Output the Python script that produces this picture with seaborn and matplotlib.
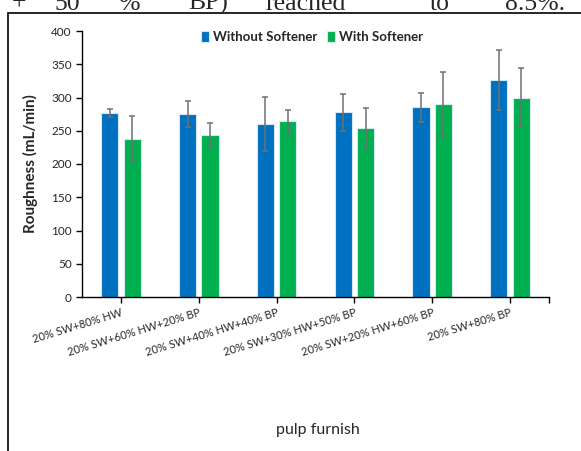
import matplotlib
matplotlib.use("Agg")
import matplotlib.pyplot as plt
from matplotlib.patches import Rectangle
import seaborn as sns
import pandas as pd
import numpy as np

categories = ["20% SW+80% HW", "20% SW+60% HW+20% BP", "20% SW+40% HW+40% BP",
              "20% SW+30% HW+50% BP", "20% SW+20% HW+60% BP", "20% SW+80% BP"]
without_softener = [277, 275, 260, 278, 285, 326]
without_err = [6, 20, 41, 28, 22, 45]
with_softener = [238, 243, 264, 254, 290, 300]
with_err = [34, 18, 17, 30, 49, 44]
series_names = ["Without Softener", "With Softener"]
yticks = [0, 50, 100, 150, 200, 250, 300, 350, 400]

df = pd.DataFrame({
    "furnish": categories * 2,
    "rough": without_softener + with_softener,
    "treatment": [series_names[0]] * 6 + [series_names[1]] * 6,
})
errs = {series_names[0]: without_err, series_names[1]: with_err}

sns.set_style("white")
fig = plt.figure(figsize=(5.81, 4.51), dpi=100)
ax = fig.add_axes([82/581, 1-297/451, (549-82)/581, (297-31)/451])

sns.barplot(data=df, x="furnish", y="rough", hue="treatment",
            palette=["#0070C0", "#00B050"], saturation=1, width=0.576, gap=0.236,
            edgecolor="#d6e6f2", linewidth=0.8, errorbar=None, ax=ax)

for cont, name in zip(ax.containers, series_names):
    xs = [p.get_x() + p.get_width()/2 for p in cont.patches]
    hs = [p.get_height() for p in cont.patches]
    ax.errorbar(xs, hs, yerr=errs[name], fmt="none", ecolor="#707070",
                elinewidth=1.1, capsize=2.5, capthick=1.1, zorder=5)

ax.set_ylim(0, 400)
ax.set_xlim(-0.5, 5.5)
ax.set_yticks(yticks)
ax.set_yticklabels([str(v) for v in yticks], fontsize=8.5, family="Lato")
ax.set_xticks(range(6))
ax.set_xticks([5.5], minor=True)
ax.set_xticklabels(categories, rotation=17, ha="right", va="top",
                   rotation_mode="anchor", fontsize=8, family="Lato")
ax.tick_params(axis="both", which="both", direction="out", length=4, width=1,
               color="black", left=True, bottom=True)
ax.tick_params(axis="x", pad=3)
for s in ["top", "right"]:
    ax.spines[s].set_visible(False)
for s in ["left", "bottom"]:
    ax.spines[s].set_color("black")
    ax.spines[s].set_linewidth(1)
ax.set_xlabel("")
ax.set_ylabel("Roughness (mL/min)", fontsize=11, fontweight="bold", family="Lato", labelpad=9)

leg = ax.legend(loc="center", bbox_to_anchor=(0.4925, 0.977), ncol=2, frameon=False,
                handlelength=0.6, handleheight=0.9, handletextpad=0.3, columnspacing=0.8,
                prop={"family": "Lato", "weight": "bold", "size": 9.5})

fig.text(318/581, 1-430/451, "pulp furnish", ha="center", va="center",
         fontsize=11.5, family="Lato")

# figure frame from the document
fig.patches.append(Rectangle((8/581, -0.1), 1.2, 1 + 0.1 - 13/451,
                             transform=fig.transFigure, fill=False,
                             edgecolor="black", linewidth=1.2))

# partial document text above the chart
words = [("+", 12), ("50", 55), ("%", 118), ("BP)", 188), ("reached", 265), ("to", 430), ("8.5%.", 505)]
for w, xp in words:
    fig.text(xp/581, 1-10/451, w, ha="left", va="baseline", fontsize=18.5,
             family="Liberation Serif")

fig.savefig("out.png", dpi=100)
